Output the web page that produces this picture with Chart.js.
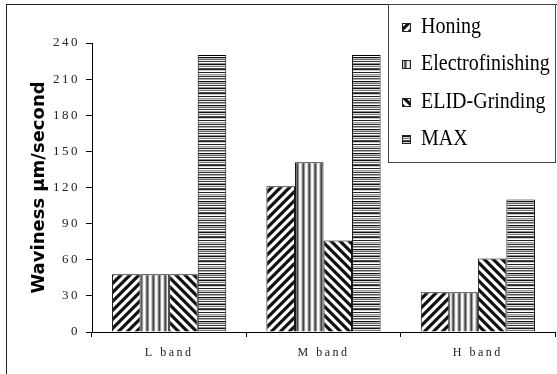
<!DOCTYPE html>
<html>
<head>
<meta charset="utf-8">
<script src="https://cdn.jsdelivr.net/npm/chart.js@4.4.1/dist/chart.umd.min.js"></script>
<style>
html, body { margin: 0; padding: 0; background: #fff; }
#wrap { width: 557px; height: 374px; position: relative; }
</style>
</head>
<body>
<div id="wrap"><canvas id="chart"></canvas></div>
<script>
// data
const bands = ['L band', 'M band', 'H band'];
const honing = [48, 121, 33];
const electrofinishing = [48, 141, 33];
const elidGrinding = [48, 76, 61];
const maxValues = [230, 230, 110];
const seriesNames = ['Honing', 'Electrofinishing', 'ELID-Grinding', 'MAX'];
const yMax = 240;
const yStep = 30;

const canvas = document.getElementById('chart');
const baseCtx = canvas.getContext('2d');

// hatch patterns like the old grayscale print
function diagPattern(dir) {
    const c = document.createElement('canvas');
    c.width = 9; c.height = 9;
    const g = c.getContext('2d');
    g.fillStyle = '#fff';
    g.fillRect(0, 0, 9, 9);
    g.strokeStyle = '#111';
    g.lineWidth = 3.2;
    g.beginPath();
    if (dir > 0) {
        g.moveTo(-2, 11); g.lineTo(11, -2);
        g.moveTo(-2, 2); g.lineTo(2, -2);
        g.moveTo(7, 11); g.lineTo(11, 7);
    } else {
        g.moveTo(-2, -2); g.lineTo(11, 11);
        g.moveTo(7, -2); g.lineTo(11, 2);
        g.moveTo(-2, 7); g.lineTo(2, 11);
    }
    g.stroke();
    return baseCtx.createPattern(c, 'repeat');
}

function stripePattern(cols, vertical) {
    const c = document.createElement('canvas');
    c.width = vertical ? cols.length : 4;
    c.height = vertical ? 4 : cols.length;
    const g = c.getContext('2d');
    cols.forEach((col, i) => {
        g.fillStyle = col;
        if (vertical) g.fillRect(i, 0, 1, 4);
        else g.fillRect(0, i, 4, 1);
    });
    return baseCtx.createPattern(c, 'repeat');
}

const vStripes = ['#fff', '#ccc', '#777', '#444', '#999', '#eee'];
const hStripes = ['#222', '#fff', '#999', '#ccc', '#333', '#eee', '#555', '#aaa', '#fff', '#111',
                  '#bbb', '#666', '#eee', '#333', '#fff', '#888', '#111', '#ddd', '#777', '#fff',
                  '#444', '#222', '#ccc', '#fff'];

const fills = [diagPattern(1), stripePattern(vStripes, true), diagPattern(-1), stripePattern(hStripes, false)];
const values = [honing, electrofinishing, elidGrinding, maxValues];

const datasets = seriesNames.map((name, i) => ({
    label: name,
    data: values[i],
    backgroundColor: fills[i],
    borderColor: '#000',
    borderWidth: 1,
    borderSkipped: 'bottom'
}));

// tick labels are spaced out in the original, the axis title is not
const spacing = {
    id: 'spacing',
    beforeDraw(chart) {
        const ctx = chart.ctx;
        ctx.letterSpacing = '0px';
        ctx.save();
        ctx.strokeStyle = '#222';
        ctx.lineWidth = 1;
        ctx.strokeRect(6.5, 4.5, 700, 700);
        ctx.restore();
    },
    afterDatasetsDraw(chart) {
        chart.ctx.letterSpacing = '2.5px';
    }
};

const legendBox = {
    id: 'legendBox',
    afterDraw(chart) {
        const ctx = chart.ctx;
        ctx.letterSpacing = '0px';
        ctx.save();
        ctx.fillStyle = '#fff';
        ctx.fillRect(388, 4, 167, 158);
        ctx.strokeStyle = '#444';
        ctx.lineWidth = 1;
        ctx.strokeRect(388.5, 4.5, 167, 158);
        const baselines = [33, 70, 108, 145];
        chart.data.datasets.forEach((ds, i) => {
            const y = baselines[i];
            ctx.fillStyle = ds.backgroundColor;
            ctx.fillRect(402, y - 10, 9, 9);
            ctx.strokeStyle = '#222';
            ctx.strokeRect(402.5, y - 9.5, 8, 8);
            ctx.save();
            ctx.translate(421, y);
            ctx.scale(1, 1.12);
            ctx.font = '20px "Liberation Serif"';
            ctx.textBaseline = 'alphabetic';
            ctx.fillStyle = '#000';
            ctx.fillText(ds.label, 0, 0);
            ctx.restore();
        });
        ctx.restore();
    }
};

new Chart(canvas, {
    type: 'bar',
    data: { labels: bands, datasets: datasets },
    plugins: [spacing, legendBox],
    options: {
        responsive: true,
        maintainAspectRatio: false,
        animation: false,
        devicePixelRatio: 1,
        layout: { padding: { left: 0, top: 43, right: 2, bottom: 0 } },
        datasets: { bar: { categoryPercentage: 0.74, barPercentage: 1 } },
        plugins: { legend: { display: false }, tooltip: { enabled: false } },
        scales: {
            x: {
                grid: { drawOnChartArea: false, drawTicks: true, tickLength: 5, color: '#000', offset: true },
                border: { color: '#000', width: 1 },
                ticks: { z: 1, color: '#222', padding: 9, font: { family: 'Liberation Serif', size: 12 } },
                afterFit(scale) { scale.height = 42; }
            },
            y: {
                min: 0,
                max: yMax,
                grid: { drawOnChartArea: false, drawTicks: true, tickLength: 6, color: '#000' },
                border: { color: '#000', width: 1 },
                ticks: { z: 1, stepSize: yStep, color: '#222', padding: 6, font: { family: 'Liberation Serif', size: 13 } },
                title: {
                    display: true,
                    text: 'Waviness µm/second',
                    color: '#000',
                    padding: { top: 29, bottom: 0 },
                    font: { family: 'DejaVu Sans', size: 18, weight: 'bold' }
                },
                afterFit(scale) { scale.width = 92; }
            }
        }
    }
});
</script>
</body>
</html>
